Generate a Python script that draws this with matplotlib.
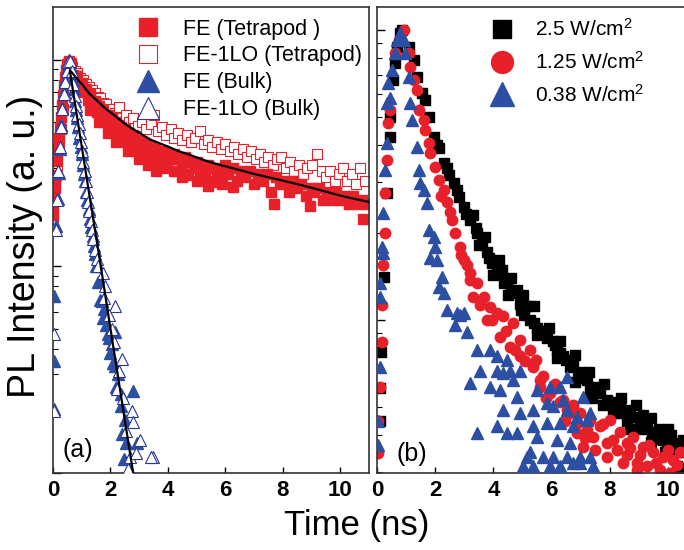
import matplotlib
matplotlib.use("Agg")
import matplotlib.pyplot as plt
import numpy as np

plt.rcParams['font.family'] = ['Liberation Sans', 'DejaVu Sans']
plt.rcParams['mathtext.default'] = 'regular'

RED = '#e8202a'
BLUE = '#2c4ea3'
DBLUE = '#2a3596'

# ---------------- panel (a): tetrapod vs bulk ----------------
tetra_fe_t = [0.00, 0.00, 0.03, 0.07, 0.10, 0.14, 0.17, 0.21, 0.24, 0.28, 0.31, 0.35, 0.38, 0.42, 0.45, 0.49, 0.56, 0.63,
              0.70, 0.78, 0.85, 0.92, 1.00, 1.08, 1.15, 1.22, 1.30, 1.38, 1.45, 1.52, 1.60, 1.68, 1.75, 1.82, 1.90, 1.98,
              2.05, 2.12, 2.20, 2.28, 2.35, 2.42, 2.50, 2.58, 2.65, 2.72, 2.79, 2.80, 2.88, 2.95, 3.02, 3.10, 3.18, 3.25,
              3.32, 3.40, 3.48, 3.55, 3.62, 3.70, 3.78, 3.85, 3.92, 3.97, 4.00, 4.10, 4.20, 4.30, 4.40, 4.50, 4.60, 4.67,
              4.70, 4.80, 4.90, 5.00, 5.10, 5.20, 5.30, 5.40, 5.50, 5.60, 5.70, 5.71, 5.80, 5.90, 6.00, 6.10, 6.25, 6.27,
              6.40, 6.55, 6.70, 6.85, 7.00, 7.15, 7.30, 7.45, 7.60, 7.70, 7.75, 7.90, 8.05, 8.20, 8.35, 8.50, 8.65, 8.80,
              8.95, 9.00, 9.10, 9.25, 9.40, 9.55, 9.70, 9.85, 10.00, 10.15, 10.30, 10.45, 10.60, 10.75, 10.80, 10.90,
              1.30, 1.60, 1.90, 2.20, 2.60, 3.00, 3.30, 3.60, 4.20, 4.50, 5.00, 5.40]
tetra_fe_v = [0.178, 0.199, 0.223, 0.249, 0.278, 0.322, 0.368, 0.42, 0.469, 0.531, 0.606, 0.677, 0.757, 0.828, 0.895, 0.956, 0.989, 0.967,
              0.84, 0.80, 0.83, 0.74, 0.77, 0.70, 0.72, 0.64, 0.68, 0.60, 0.63, 0.56, 0.60, 0.53, 0.57, 0.50, 0.54, 0.48,
              0.52, 0.45, 0.50, 0.43, 0.47, 0.41, 0.46, 0.40, 0.44, 0.37, 0.368, 0.43, 0.39, 0.41, 0.35, 0.40, 0.36, 0.39,
              0.33, 0.38, 0.35, 0.37, 0.31, 0.36, 0.34, 0.36, 0.30, 0.318, 0.35, 0.33, 0.35, 0.29, 0.33, 0.31, 0.34, 0.278,
              0.28, 0.32, 0.30, 0.32, 0.27, 0.31, 0.29, 0.31, 0.26, 0.30, 0.28, 0.255, 0.29, 0.25, 0.31, 0.28, 0.30, 0.243,
              0.26, 0.29, 0.27, 0.29, 0.25, 0.28, 0.26, 0.28, 0.23, 0.20, 0.27, 0.25, 0.26, 0.23, 0.26, 0.24, 0.25, 0.22,
              0.195, 0.24, 0.23, 0.24, 0.21, 0.23, 0.21, 0.23, 0.21, 0.22, 0.20, 0.22, 0.20, 0.21, 0.17, 0.20,
              0.57, 0.50, 0.44, 0.40, 0.36, 0.33, 0.31, 0.29, 0.29, 0.27, 0.26, 0.245]

tetra_lo_t = [0.00, 0.07, 0.14, 0.21, 0.28, 0.35, 0.42, 0.49, 0.56,
              0.66, 0.75, 0.85, 0.95, 1.05, 1.15, 1.25, 1.35, 1.45, 1.55, 1.65, 1.75, 1.85, 1.95, 2.05, 2.15, 2.30,
              2.40, 2.55, 2.65, 2.80, 2.95, 3.10, 3.25, 3.40, 3.50, 3.65, 3.80, 3.95, 4.10, 4.20, 4.35, 4.50, 4.65,
              4.80, 4.95, 5.10, 5.25, 5.40, 5.55, 5.70, 5.85, 6.00, 6.15, 6.30, 6.45, 6.60, 6.75, 6.90, 7.05, 7.20,
              7.35, 7.50, 7.65, 7.80, 7.95, 8.10, 8.25, 8.40, 8.55, 8.70, 8.85, 9.00, 9.20, 9.35, 9.50, 9.65, 9.80,
              9.95, 10.10, 10.25, 10.40, 10.55, 10.70, 10.85]
tetra_lo_v = [0.17, 0.24, 0.30, 0.37, 0.46, 0.58, 0.72, 0.88, 0.97,
              0.92, 0.88, 0.86, 0.82, 0.80, 0.76, 0.74, 0.71, 0.69, 0.66, 0.65, 0.62, 0.61, 0.58, 0.58, 0.55, 0.59,
              0.52, 0.54, 0.50, 0.52, 0.48, 0.50, 0.46, 0.49, 0.54, 0.45, 0.47, 0.43, 0.46, 0.42, 0.44, 0.41, 0.43,
              0.40, 0.42, 0.45, 0.39, 0.41, 0.38, 0.40, 0.37, 0.39, 0.36, 0.38, 0.35, 0.37, 0.34, 0.36, 0.33, 0.35,
              0.32, 0.34, 0.31, 0.33, 0.34, 0.30, 0.32, 0.29, 0.31, 0.28, 0.30, 0.31, 0.35, 0.29, 0.27, 0.29, 0.26,
              0.28, 0.30, 0.26, 0.28, 0.25, 0.30, 0.26]

bulk_fe_t = [0.03, 0.03, 0.03, 0.12, 0.17, 0.20, 0.24, 0.28, 0.33, 0.38, 0.42, 0.47, 0.52, 0.56,
             0.62, 0.68, 0.72, 0.77, 0.80, 0.85, 0.88, 0.92, 0.96, 1.00, 1.03, 1.07, 1.12, 1.15, 1.20, 1.25,
             1.28, 1.33, 1.38, 1.42, 1.47, 1.50, 1.57, 1.62, 1.64, 1.70, 1.78, 1.75, 1.85, 1.92, 1.95, 2.05,
             2.00, 2.16, 2.10, 2.16, 2.25, 2.20, 2.35, 2.38, 2.40, 2.50, 2.55, 2.62, 2.48, 2.65, 2.79, 2.93]
bulk_fe_v = [0.0205, 0.035, 0.072, 0.156, 0.211, 0.284, 0.368, 0.485, 0.586, 0.70, 0.80, 0.895, 0.967, 1.0,
             0.92, 0.80, 0.72, 0.63, 0.57, 0.52, 0.47, 0.42, 0.38, 0.35, 0.31, 0.28, 0.26, 0.23, 0.21, 0.19,
             0.17, 0.155, 0.14, 0.125, 0.115, 0.10, 0.084, 0.085, 0.069, 0.068, 0.062, 0.056, 0.052, 0.047, 0.045, 0.042,
             0.038, 0.048, 0.034, 0.033, 0.030, 0.026, 0.024, 0.021, 0.0154, 0.018, 0.014, 0.0102, 0.0117, 0.0105, 0.025, 0.014]

bulk_lo_t = [0.03, 0.03, 0.12, 0.14, 0.19, 0.24, 0.28, 0.33, 0.38, 0.43, 0.48, 0.52, 0.58,
             0.65, 0.70, 0.75, 0.80, 0.84, 0.90, 0.94, 0.98, 1.02, 1.06, 1.10, 1.14, 1.18, 1.23, 1.27, 1.31,
             1.36, 1.40, 1.45, 1.52, 1.58, 1.74, 1.80, 1.78, 2.16, 1.95, 2.05, 2.12, 2.40, 2.30, 2.23, 2.45,
             2.75, 2.79, 2.55, 3.03, 2.68, 2.88, 3.48, 3.40, 2.60]
bulk_lo_v = [0.02, 0.047, 0.15, 0.21, 0.29, 0.38, 0.47, 0.58, 0.68, 0.78, 0.88, 0.97, 0.99,
             0.88, 0.76, 0.67, 0.60, 0.54, 0.49, 0.44, 0.40, 0.36, 0.32, 0.29, 0.26, 0.23, 0.205, 0.185, 0.165,
             0.15, 0.135, 0.12, 0.108, 0.10, 0.093, 0.080, 0.070, 0.064, 0.058, 0.050, 0.043, 0.0355, 0.031, 0.0255, 0.023,
             0.020, 0.0177, 0.016, 0.0144, 0.0119, 0.0125, 0.0119, 0.0119, 0.0105]

tetra_fit_t = [0.62, 0.8, 1.05, 1.25, 1.5, 1.8, 2.2, 2.5, 2.8, 3.1, 3.4, 3.7, 4.0, 4.4, 4.8, 5.3, 5.8,
               6.4, 7.0, 7.5, 8.0, 8.5, 9.0, 9.5, 10.0, 10.5, 11.0]
tetra_fit_v = [0.88, 0.82, 0.75, 0.69, 0.64, 0.585, 0.53, 0.49, 0.46, 0.435, 0.41, 0.395, 0.38, 0.36, 0.345, 0.325, 0.31,
               0.295, 0.28, 0.27, 0.26, 0.25, 0.24, 0.23, 0.22, 0.212, 0.205]
bulk_fit_t = [0.59, 0.94, 1.29, 1.64, 2.0, 2.4, 2.79]
bulk_fit_v = [0.88, 0.43, 0.211, 0.105, 0.05, 0.0221, 0.01]

# ---------------- panel (b): excitation power ----------------
p25_t = [0.10, 0.10, 0.14, 0.24, 0.34, 0.45, 0.45, 0.55, 0.62, 0.69, 0.79, 0.86,
         1.10, 1.27, 1.37, 1.55, 1.65, 1.79, 1.96, 2.13, 2.30, 2.47, 2.65, 2.82, 2.99, 3.20, 3.44, 3.61, 3.78,
         3.95, 4.12, 4.36, 4.47, 4.71, 4.81, 4.91, 5.02, 5.05, 5.26, 5.50, 5.70, 6.05, 6.19, 6.39, 6.63, 6.98,
         7.22, 7.42, 7.66, 7.90, 8.25, 8.45, 8.80, 9.04, 9.28, 9.62, 9.83, 10.17, 10.41, 10.31,
         3.30, 3.70, 4.20, 4.60, 5.40, 5.90, 6.30, 6.80, 7.30, 7.80, 8.40, 8.90, 9.40, 10.00, 10.50,
         3.50, 4.00, 4.50, 5.50, 6.20, 6.80, 7.40, 8.10, 8.70, 9.40, 9.90, 10.45,
         5.15, 5.38, 5.60, 5.85, 6.12, 6.28, 6.50, 6.75, 6.90, 7.10, 7.32, 7.55, 7.75, 8.00, 8.15, 8.35, 8.60,
         8.70, 8.95, 9.15, 9.45, 9.70, 9.95, 10.10, 10.30, 10.50, 2.05, 2.40, 2.75, 3.05, 3.40, 3.85, 4.30,
         4.60, 4.95]
p25_v = [0.045, 0.0584, 0.0776, 0.141, 0.274, 0.428, 0.50, 0.67, 0.77, 0.874, 0.976, 1.0,
         0.874, 0.788, 0.689, 0.606, 0.574, 0.501, 0.428, 0.392, 0.348, 0.316, 0.297, 0.266, 0.246, 0.221, 0.20, 0.184, 0.171,
         0.157, 0.145, 0.134, 0.137, 0.124, 0.127, 0.114, 0.122, 0.104, 0.10, 0.094, 0.090, 0.085, 0.079, 0.075, 0.069, 0.066,
         0.062, 0.059, 0.056, 0.053, 0.050, 0.048, 0.0465, 0.044, 0.042, 0.041, 0.0386, 0.0377, 0.035, 0.0313,
         0.231, 0.193, 0.161, 0.14, 0.112, 0.094, 0.085, 0.076, 0.066, 0.060, 0.054, 0.051, 0.046, 0.042, 0.0386,
         0.181, 0.143, 0.122, 0.089, 0.074, 0.061, 0.054, 0.048, 0.042, 0.038, 0.035, 0.031,
         0.112, 0.098, 0.092, 0.087, 0.082, 0.077, 0.073, 0.070, 0.063, 0.064, 0.057, 0.056, 0.051, 0.052, 0.048, 0.052, 0.045,
         0.049, 0.042, 0.047, 0.039, 0.042, 0.037, 0.040, 0.035, 0.036, 0.40, 0.335, 0.281, 0.232, 0.207, 0.164, 0.149,
         0.127, 0.108]

p125_t = [0.03, 0.03, 0.10, 0.17, 0.17, 0.21, 0.27, 0.27, 0.34, 0.38, 0.45, 0.62, 0.76, 0.93,
          1.10, 1.13, 1.27, 1.37, 1.44, 1.62, 1.65, 1.79, 1.82, 1.99, 2.13, 2.30, 2.41, 2.58, 2.68, 2.85, 2.99,
          3.20, 3.20, 3.30, 3.44, 3.68, 3.78, 3.88, 4.12, 4.23, 4.33, 4.57, 4.67, 4.91, 4.91, 5.26, 5.36, 5.60,
          5.70, 5.60, 5.95, 6.29, 6.39, 6.53, 6.63, 6.87, 6.87, 6.98, 7.08, 7.22, 7.32, 7.42, 7.66, 7.90, 7.90,
          8.01, 8.25, 8.35, 8.59, 8.59, 8.80, 8.93, 8.93, 9.14, 9.28, 9.48, 9.73, 9.83, 10.07, 10.17, 10.41,
          3.55, 3.95, 4.45, 4.75, 5.10, 5.45, 5.80, 6.10, 6.45, 6.75, 7.15, 7.50, 7.75, 8.10, 8.45, 8.70, 9.05,
          9.35, 9.60, 10.00, 10.30, 2.20, 2.50, 2.90, 3.10]
p125_v = [0.0347, 0.045, 0.059, 0.084, 0.113, 0.155, 0.20, 0.274, 0.356, 0.478, 0.53, 0.833, 0.924, 1.0,
          0.833, 0.746, 0.672, 0.621, 0.53, 0.49, 0.452, 0.408, 0.377, 0.337, 0.304, 0.281, 0.255, 0.221, 0.20, 0.179, 0.161,
          0.145, 0.137, 0.12, 0.134, 0.12, 0.10, 0.111, 0.106, 0.0873, 0.103, 0.081, 0.098, 0.0853, 0.075, 0.0788, 0.069, 0.062,
          0.064, 0.059, 0.056, 0.052, 0.053, 0.049, 0.048, 0.0443, 0.0409, 0.048, 0.0365, 0.0418, 0.0452, 0.0395, 0.043, 0.0377, 0.0338,
          0.0452, 0.0356, 0.041, 0.0377, 0.0342, 0.0395, 0.0322, 0.0304, 0.0365, 0.0313, 0.035, 0.0304, 0.0338, 0.0297, 0.0329, 0.035,
          0.113, 0.10, 0.092, 0.079, 0.072, 0.073, 0.054, 0.060, 0.045, 0.051, 0.0393, 0.0356, 0.0437, 0.0386, 0.0322, 0.0363, 0.0342,
          0.037, 0.0322, 0.0356, 0.0316, 0.268, 0.236, 0.168, 0.155]

p038_t = [0.03, 0.03, 0.10, 0.10, 0.10, 0.17, 0.21, 0.21, 0.27, 0.34, 0.34, 0.38, 0.45, 0.52, 0.62, 0.69, 0.79,
          0.93, 0.96, 1.10, 1.13, 1.20, 1.37, 1.44, 1.48, 1.62, 1.72, 1.79, 1.96, 1.99, 1.82, 2.06, 2.23, 2.13,
          2.30, 2.41, 2.75, 2.85, 2.99, 2.68, 3.09, 3.44, 3.88, 4.12, 3.54, 4.12, 4.33, 4.57, 3.20, 3.88, 4.23,
          4.81, 4.33, 4.91, 5.36, 5.84, 6.29, 6.53, 3.44, 4.12, 4.47, 4.81, 5.36, 5.84, 6.29, 6.74, 7.22, 5.15,
          6.05, 6.53, 6.98, 7.32, 5.02, 5.36, 5.95, 6.29, 6.74, 7.42, 4.47, 4.67, 4.91, 5.50, 5.95, 6.39, 7.08,
          6.05, 6.53, 6.87, 7.32, 5.50, 6.19, 6.63, 5.26, 5.70, 6.98]
p038_v = [0.037, 0.045, 0.069, 0.12, 0.134, 0.178, 0.17, 0.234, 0.329, 0.408, 0.56, 0.657, 0.583, 0.728, 0.833, 0.924, 0.976,
          0.924, 0.833, 0.689, 0.56, 0.49, 0.395, 0.329, 0.297, 0.281, 0.253, 0.204, 0.193, 0.179, 0.164, 0.161, 0.141, 0.13,
          0.124, 0.108, 0.106, 0.104, 0.106, 0.096, 0.091, 0.0788, 0.0788, 0.075, 0.067, 0.067, 0.0656, 0.067, 0.0606, 0.059, 0.0574,
          0.0545, 0.049, 0.048, 0.049, 0.0518, 0.059, 0.0638, 0.0409, 0.043, 0.0409, 0.0409, 0.043, 0.0443, 0.0443, 0.043, 0.0452, 0.0338,
          0.0338, 0.0338, 0.0322, 0.0338, 0.0313, 0.0313, 0.0313, 0.0313, 0.0322, 0.0313, 0.0728, 0.0621, 0.067, 0.0574, 0.059, 0.053, 0.0545,
          0.0506, 0.049, 0.0465, 0.048, 0.0395, 0.0386, 0.0377, 0.035, 0.0338, 0.0338]

fig = plt.figure(figsize=(6.84, 5.50), dpi=100)
axa = fig.add_axes([53 / 684, 77 / 550, 316 / 684, 466 / 550])
axb = fig.add_axes([377 / 684, 77 / 550, 307 / 684, 466 / 550])

axa.plot(tetra_fe_t, tetra_fe_v, 's', color=RED, ms=7, mec=RED, label='FE (Tetrapod )', zorder=2)
axa.plot(tetra_lo_t, tetra_lo_v, 's', mfc='white', mec=RED, ms=7, mew=0.8, label='FE-1LO (Tetrapod)', zorder=1)
axa.plot(bulk_fe_t, bulk_fe_v, '^', color=BLUE, ms=8, mec=BLUE, label='FE (Bulk)', zorder=3)
axa.plot(bulk_lo_t, bulk_lo_v, '^', mfc='white', mec=DBLUE, ms=8, mew=0.8, label='FE-1LO (Bulk)', zorder=3)
axa.plot(tetra_fit_t, tetra_fit_v, '-', color='black', lw=1.6, zorder=4)
axa.plot(bulk_fit_t, bulk_fit_v, '-', color='black', lw=1.6, zorder=4)
axa.set_xlim(0, 11)
axa.set_ylim(0.01, 1.80)

axb.plot(p25_t, p25_v, 's', color='black', ms=6.5, label='2.5 W/cm$^2$', zorder=1)
axb.plot(p125_t, p125_v, 'o', color=RED, ms=7.5, label='1.25 W/cm$^2$', zorder=2)
axb.plot(p038_t, p038_v, '^', color=BLUE, ms=8, label='0.38 W/cm$^2$', zorder=3)
axb.set_xlim(0, 10.55)
axb.set_ylim(0.0297, 1.2)
axb.spines['right'].set_visible(False)

for ax in (axa, axb):
    ax.set_yscale('log')
    ax.set_xticks([0, 2, 4, 6, 8, 10])
    ax.tick_params(axis='x', direction='in', length=4, width=1, labelsize=16, pad=5)
    ax.tick_params(axis='y', which='major', direction='in', length=6, width=1, labelleft=False)
    ax.tick_params(axis='y', which='minor', direction='in', length=3.5, width=0.8, labelleft=False)
    for lab in ax.get_xticklabels():
        lab.set_fontweight('bold')
    for sp in ax.spines.values():
        sp.set_linewidth(1.2)
        sp.set_color('#333333')

axa.legend(loc='upper left', bbox_to_anchor=(0.266, 0.975), frameon=False, fontsize=15.5,
           markerscale=1.9, handlelength=1.0, handletextpad=1.14, labelspacing=0.27,
           borderpad=0, borderaxespad=0)
axb.legend(loc='upper left', bbox_to_anchor=(0.373, 0.976), frameon=False, fontsize=15,
           markerscale=2.1, handlelength=1.0, handletextpad=1.09, labelspacing=0.52,
           borderpad=0, borderaxespad=0)

axa.text(0.03, 0.05, '(a)', transform=axa.transAxes, fontsize=18, va='center', ha='left')
axb.text(0.065, 0.04, '(b)', transform=axb.transAxes, fontsize=18, va='center', ha='left')

fig.text(357 / 684, 1 - 525 / 550, 'Time (ns)', fontsize=25, ha='center', va='center')
fig.text(25 / 684, 1 - 246 / 550, 'PL Intensity (a. u.)', fontsize=27, rotation=90, ha='center', va='center')

fig.savefig('out.png', dpi=100)
